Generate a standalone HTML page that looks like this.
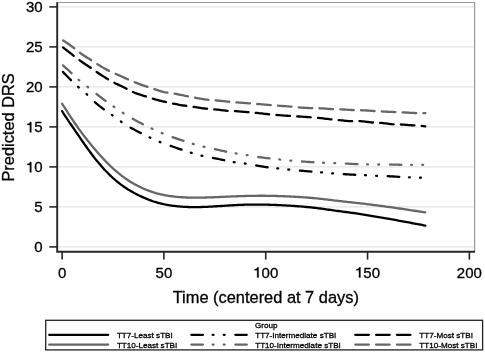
<!DOCTYPE html>
<html><head><meta charset="utf-8"><style>
html,body{margin:0;padding:0;background:#fff;width:485px;height:352px;overflow:hidden}
text{font-family:"Liberation Sans",sans-serif;fill:#000;stroke:#000;stroke-width:0.3px}
</style></head><body>
<svg width="485" height="352" viewBox="0 0 485 352" style="position:absolute;left:0;top:0;will-change:transform">
<rect x="0" y="0" width="485" height="352" fill="#fff"/>
<line x1="57.2" y1="246.90" x2="474.6" y2="246.90" stroke="#e4e4e4" stroke-width="1.2"/>
<line x1="57.2" y1="206.90" x2="474.6" y2="206.90" stroke="#e4e4e4" stroke-width="1.2"/>
<line x1="57.2" y1="166.90" x2="474.6" y2="166.90" stroke="#e4e4e4" stroke-width="1.2"/>
<line x1="57.2" y1="126.90" x2="474.6" y2="126.90" stroke="#e4e4e4" stroke-width="1.2"/>
<line x1="57.2" y1="86.90" x2="474.6" y2="86.90" stroke="#e4e4e4" stroke-width="1.2"/>
<line x1="57.2" y1="46.90" x2="474.6" y2="46.90" stroke="#e4e4e4" stroke-width="1.2"/>
<line x1="57.2" y1="6.90" x2="474.6" y2="6.90" stroke="#e4e4e4" stroke-width="1.2"/>
<path d="M57.2,2.5 H474.6 V251.8" fill="none" stroke="#9a9a9a" stroke-width="1.2"/>
<path d="M57.2,2.2 V251.8 H475.0" fill="none" stroke="#262626" stroke-width="1.9" stroke-linejoin="miter"/>
<line x1="49.3" y1="246.90" x2="57.2" y2="246.90" stroke="#262626" stroke-width="1.6"/>
<text x="34.26" y="252.30" font-size="15">0</text>
<line x1="49.3" y1="206.90" x2="57.2" y2="206.90" stroke="#262626" stroke-width="1.6"/>
<text x="34.26" y="212.30" font-size="15">5</text>
<line x1="49.3" y1="166.90" x2="57.2" y2="166.90" stroke="#262626" stroke-width="1.6"/>
<path d="M31.35,172.30 L31.35,161.98 L30.19,161.98 C29.85,163.30 28.62,163.90 27.27,163.98 L27.27,165.03 L29.85,165.03 L29.85,172.30 Z" fill="#000" stroke="#000" stroke-width="0.3"/>
<text x="34.26" y="172.30" font-size="15">0</text>
<line x1="49.3" y1="126.90" x2="57.2" y2="126.90" stroke="#262626" stroke-width="1.6"/>
<path d="M31.35,132.30 L31.35,121.98 L30.19,121.98 C29.85,123.30 28.62,123.90 27.27,123.98 L27.27,125.03 L29.85,125.03 L29.85,132.30 Z" fill="#000" stroke="#000" stroke-width="0.3"/>
<text x="34.26" y="132.30" font-size="15">5</text>
<line x1="49.3" y1="86.90" x2="57.2" y2="86.90" stroke="#262626" stroke-width="1.6"/>
<text x="25.92" y="92.30" font-size="15">2</text>
<text x="34.26" y="92.30" font-size="15">0</text>
<line x1="49.3" y1="46.90" x2="57.2" y2="46.90" stroke="#262626" stroke-width="1.6"/>
<text x="25.92" y="52.30" font-size="15">2</text>
<text x="34.26" y="52.30" font-size="15">5</text>
<line x1="49.3" y1="6.90" x2="57.2" y2="6.90" stroke="#262626" stroke-width="1.6"/>
<text x="25.92" y="12.30" font-size="15">3</text>
<text x="34.26" y="12.30" font-size="15">0</text>
<line x1="62.10" y1="251.8" x2="62.10" y2="259.6" stroke="#262626" stroke-width="1.6"/>
<text x="57.93" y="277.60" font-size="15">0</text>
<line x1="163.92" y1="251.8" x2="163.92" y2="259.6" stroke="#262626" stroke-width="1.6"/>
<text x="155.57" y="277.60" font-size="15">5</text>
<text x="163.92" y="277.60" font-size="15">0</text>
<line x1="265.73" y1="251.8" x2="265.73" y2="259.6" stroke="#262626" stroke-width="1.6"/>
<path d="M258.65,277.60 L258.65,267.28 L257.49,267.28 C257.15,268.60 255.92,269.20 254.57,269.28 L254.57,270.33 L257.15,270.33 L257.15,277.60 Z" fill="#000" stroke="#000" stroke-width="0.3"/>
<text x="261.56" y="277.60" font-size="15">0</text>
<text x="269.90" y="277.60" font-size="15">0</text>
<line x1="367.55" y1="251.8" x2="367.55" y2="259.6" stroke="#262626" stroke-width="1.6"/>
<path d="M360.46,277.60 L360.46,267.28 L359.31,267.28 C358.96,268.60 357.73,269.20 356.38,269.28 L356.38,270.33 L358.96,270.33 L358.96,277.60 Z" fill="#000" stroke="#000" stroke-width="0.3"/>
<text x="363.37" y="277.60" font-size="15">5</text>
<text x="371.72" y="277.60" font-size="15">0</text>
<line x1="469.36" y1="251.8" x2="469.36" y2="259.6" stroke="#262626" stroke-width="1.6"/>
<text x="456.85" y="277.60" font-size="15">2</text>
<text x="465.19" y="277.60" font-size="15">0</text>
<text x="473.53" y="277.60" font-size="15">0</text>
<text x="265.8" y="302.8" text-anchor="middle" font-size="16.4">Time (centered at 7 days)</text>
<text transform="translate(13.5,127.4) rotate(-90)" x="0" y="0" text-anchor="middle" font-size="16.4">Predicted DRS</text>
<path d="M62.10,111.24 L63.60,113.52 L65.10,115.79 L66.60,118.06 L68.10,120.31 L69.60,122.53 L71.10,124.75 L72.60,126.95 L74.10,129.15 L75.60,131.34 L77.10,133.52 L78.60,135.70 L80.10,137.88 L81.60,140.06 L83.10,142.22 L84.60,144.37 L86.10,146.50 L87.60,148.61 L89.10,150.69 L90.60,152.74 L92.10,154.75 L93.60,156.71 L95.10,158.62 L96.60,160.48 L98.10,162.30 L99.60,164.07 L101.10,165.81 L102.60,167.50 L104.10,169.15 L105.60,170.76 L107.10,172.33 L108.60,173.85 L110.10,175.33 L111.60,176.76 L113.10,178.14 L114.60,179.47 L116.10,180.75 L117.60,181.99 L119.10,183.18 L120.60,184.33 L122.10,185.43 L123.60,186.49 L125.10,187.51 L126.60,188.49 L128.10,189.44 L129.60,190.35 L131.10,191.24 L132.60,192.09 L134.10,192.91 L135.60,193.71 L137.10,194.48 L138.60,195.23 L140.10,195.95 L141.60,196.66 L143.10,197.34 L144.60,198.00 L146.10,198.64 L147.60,199.26 L149.10,199.86 L150.60,200.42 L152.10,200.96 L153.60,201.48 L155.10,201.96 L156.60,202.41 L158.10,202.83 L159.60,203.22 L161.10,203.59 L162.60,203.93 L164.10,204.25 L165.60,204.55 L167.10,204.84 L168.60,205.11 L170.10,205.35 L171.60,205.58 L173.10,205.79 L174.60,205.98 L176.10,206.15 L177.60,206.30 L179.10,206.44 L180.60,206.57 L182.10,206.68 L183.60,206.78 L185.10,206.87 L186.60,206.95 L188.10,207.01 L189.60,207.06 L191.10,207.10 L192.60,207.12 L194.10,207.13 L195.60,207.13 L197.10,207.12 L198.60,207.10 L200.10,207.06 L201.60,207.02 L203.10,206.97 L204.60,206.92 L206.10,206.85 L207.60,206.79 L209.10,206.71 L210.60,206.63 L212.10,206.55 L213.60,206.46 L215.10,206.37 L216.60,206.27 L218.10,206.18 L219.60,206.08 L221.10,205.98 L222.60,205.88 L224.10,205.79 L225.60,205.69 L227.10,205.59 L228.60,205.50 L230.10,205.41 L231.60,205.32 L233.10,205.23 L234.60,205.15 L236.10,205.07 L237.60,205.00 L239.10,204.93 L240.60,204.87 L242.10,204.81 L243.60,204.76 L245.10,204.72 L246.60,204.68 L248.10,204.65 L249.60,204.62 L251.10,204.60 L252.60,204.59 L254.10,204.58 L255.60,204.57 L257.10,204.57 L258.60,204.58 L260.10,204.59 L261.60,204.61 L263.10,204.63 L264.60,204.65 L266.10,204.68 L267.60,204.72 L269.10,204.76 L270.60,204.80 L272.10,204.85 L273.60,204.90 L275.10,204.96 L276.60,205.02 L278.10,205.08 L279.60,205.15 L281.10,205.22 L282.60,205.30 L284.10,205.38 L285.60,205.46 L287.10,205.54 L288.60,205.63 L290.10,205.72 L291.60,205.82 L293.10,205.92 L294.60,206.02 L296.10,206.12 L297.60,206.23 L299.10,206.34 L300.60,206.46 L302.10,206.58 L303.60,206.71 L305.10,206.84 L306.60,206.98 L308.10,207.13 L309.60,207.27 L311.10,207.43 L312.60,207.59 L314.10,207.76 L315.60,207.94 L317.10,208.12 L318.60,208.31 L320.10,208.51 L321.60,208.70 L323.10,208.91 L324.60,209.11 L326.10,209.32 L327.60,209.53 L329.10,209.75 L330.60,209.96 L332.10,210.17 L333.60,210.39 L335.10,210.60 L336.60,210.81 L338.10,211.01 L339.60,211.22 L341.10,211.42 L342.60,211.61 L344.10,211.81 L345.60,212.00 L347.10,212.20 L348.60,212.40 L350.10,212.59 L351.60,212.79 L353.10,213.00 L354.60,213.20 L356.10,213.41 L357.60,213.63 L359.10,213.85 L360.60,214.08 L362.10,214.32 L363.60,214.56 L365.10,214.81 L366.60,215.06 L368.10,215.32 L369.60,215.58 L371.10,215.84 L372.60,216.10 L374.10,216.37 L375.60,216.63 L377.10,216.90 L378.60,217.16 L380.10,217.42 L381.60,217.67 L383.10,217.93 L384.60,218.18 L386.10,218.43 L387.60,218.68 L389.10,218.94 L390.60,219.19 L392.10,219.45 L393.60,219.71 L395.10,219.98 L396.60,220.24 L398.10,220.51 L399.60,220.78 L401.10,221.05 L402.60,221.33 L404.10,221.60 L405.60,221.88 L407.10,222.15 L408.60,222.43 L410.10,222.72 L411.60,223.00 L413.10,223.28 L414.60,223.56 L416.10,223.85 L417.60,224.13 L419.10,224.42 L420.60,224.71 L422.10,224.99 L423.60,225.28 L425.10,225.57 L425.30,225.61" fill="none" stroke="#000" stroke-width="2.3" stroke-linecap="round" stroke-linejoin="round" />
<path d="M62.10,103.65 L63.60,106.00 L65.10,108.35 L66.60,110.68 L68.10,113.01 L69.60,115.31 L71.10,117.59 L72.60,119.85 L74.10,122.07 L75.60,124.26 L77.10,126.42 L78.60,128.55 L80.10,130.63 L81.60,132.67 L83.10,134.65 L84.60,136.60 L86.10,138.52 L87.60,140.41 L89.10,142.27 L90.60,144.11 L92.10,145.93 L93.60,147.73 L95.10,149.50 L96.60,151.25 L98.10,152.98 L99.60,154.68 L101.10,156.36 L102.60,158.00 L104.10,159.61 L105.60,161.19 L107.10,162.74 L108.60,164.25 L110.10,165.72 L111.60,167.15 L113.10,168.53 L114.60,169.88 L116.10,171.19 L117.60,172.46 L119.10,173.69 L120.60,174.88 L122.10,176.04 L123.60,177.16 L125.10,178.25 L126.60,179.29 L128.10,180.30 L129.60,181.27 L131.10,182.21 L132.60,183.11 L134.10,183.96 L135.60,184.79 L137.10,185.58 L138.60,186.34 L140.10,187.07 L141.60,187.77 L143.10,188.44 L144.60,189.08 L146.10,189.70 L147.60,190.30 L149.10,190.87 L150.60,191.41 L152.10,191.92 L153.60,192.41 L155.10,192.86 L156.60,193.29 L158.10,193.68 L159.60,194.05 L161.10,194.39 L162.60,194.71 L164.10,195.01 L165.60,195.29 L167.10,195.56 L168.60,195.81 L170.10,196.05 L171.60,196.26 L173.10,196.46 L174.60,196.63 L176.10,196.78 L177.60,196.91 L179.10,197.03 L180.60,197.14 L182.10,197.24 L183.60,197.33 L185.10,197.42 L186.60,197.49 L188.10,197.55 L189.60,197.60 L191.10,197.64 L192.60,197.66 L194.10,197.68 L195.60,197.68 L197.10,197.68 L198.60,197.66 L200.10,197.64 L201.60,197.61 L203.10,197.58 L204.60,197.54 L206.10,197.49 L207.60,197.45 L209.10,197.39 L210.60,197.34 L212.10,197.28 L213.60,197.23 L215.10,197.17 L216.60,197.10 L218.10,197.04 L219.60,196.98 L221.10,196.91 L222.60,196.85 L224.10,196.78 L225.60,196.72 L227.10,196.65 L228.60,196.59 L230.10,196.53 L231.60,196.46 L233.10,196.40 L234.60,196.34 L236.10,196.29 L237.60,196.23 L239.10,196.18 L240.60,196.13 L242.10,196.08 L243.60,196.04 L245.10,195.99 L246.60,195.96 L248.10,195.92 L249.60,195.89 L251.10,195.86 L252.60,195.83 L254.10,195.81 L255.60,195.79 L257.10,195.78 L258.60,195.77 L260.10,195.76 L261.60,195.76 L263.10,195.77 L264.60,195.77 L266.10,195.79 L267.60,195.80 L269.10,195.82 L270.60,195.85 L272.10,195.88 L273.60,195.91 L275.10,195.95 L276.60,195.99 L278.10,196.04 L279.60,196.09 L281.10,196.14 L282.60,196.20 L284.10,196.26 L285.60,196.32 L287.10,196.39 L288.60,196.45 L290.10,196.52 L291.60,196.60 L293.10,196.67 L294.60,196.75 L296.10,196.84 L297.60,196.92 L299.10,197.01 L300.60,197.11 L302.10,197.20 L303.60,197.31 L305.10,197.41 L306.60,197.52 L308.10,197.64 L309.60,197.76 L311.10,197.89 L312.60,198.02 L314.10,198.16 L315.60,198.30 L317.10,198.45 L318.60,198.61 L320.10,198.77 L321.60,198.94 L323.10,199.10 L324.60,199.27 L326.10,199.45 L327.60,199.62 L329.10,199.80 L330.60,199.98 L332.10,200.16 L333.60,200.34 L335.10,200.52 L336.60,200.69 L338.10,200.87 L339.60,201.04 L341.10,201.21 L342.60,201.38 L344.10,201.55 L345.60,201.71 L347.10,201.87 L348.60,202.04 L350.10,202.20 L351.60,202.36 L353.10,202.53 L354.60,202.69 L356.10,202.86 L357.60,203.03 L359.10,203.20 L360.60,203.37 L362.10,203.55 L363.60,203.73 L365.10,203.91 L366.60,204.09 L368.10,204.28 L369.60,204.47 L371.10,204.66 L372.60,204.85 L374.10,205.04 L375.60,205.23 L377.10,205.43 L378.60,205.62 L380.10,205.82 L381.60,206.01 L383.10,206.21 L384.60,206.41 L386.10,206.60 L387.60,206.81 L389.10,207.01 L390.60,207.21 L392.10,207.42 L393.60,207.63 L395.10,207.84 L396.60,208.06 L398.10,208.27 L399.60,208.49 L401.10,208.71 L402.60,208.93 L404.10,209.16 L405.60,209.38 L407.10,209.61 L408.60,209.84 L410.10,210.07 L411.60,210.30 L413.10,210.53 L414.60,210.76 L416.10,210.99 L417.60,211.23 L419.10,211.46 L420.60,211.69 L422.10,211.93 L423.60,212.16 L425.10,212.40 L425.30,212.43" fill="none" stroke="#666666" stroke-width="2.3" stroke-linecap="round" stroke-linejoin="round" />
<path d="M62.10,71.10 L63.60,72.64 L65.10,74.17 L66.60,75.70 L68.10,77.22 L69.60,78.73 L71.10,80.22 L72.60,81.70 L74.10,83.15 L75.60,84.57 L77.10,85.95 L78.60,87.29 L80.10,88.57 L81.60,89.82 L83.10,91.07 L84.60,92.34 L86.10,93.66 L87.60,95.05 L89.10,96.52 L90.60,98.02 L92.10,99.53 L93.60,100.99 L95.10,102.39 L96.60,103.71 L98.10,104.95 L99.60,106.14 L101.10,107.27 L102.60,108.37 L104.10,109.44 L105.60,110.50 L107.10,111.55 L108.60,112.59 L110.10,113.64 L111.60,114.70 L113.10,115.78 L114.60,116.88 L116.10,117.98 L117.60,119.09 L119.10,120.19 L120.60,121.27 L122.10,122.32 L123.60,123.34 L125.10,124.33 L126.60,125.28 L128.10,126.21 L129.60,127.10 L131.10,127.96 L132.60,128.80 L134.10,129.61 L135.60,130.41 L137.10,131.19 L138.60,131.95 L140.10,132.71 L141.60,133.47 L143.10,134.22 L144.60,134.97 L146.10,135.71 L147.60,136.45 L149.10,137.17 L150.60,137.89 L152.10,138.60 L153.60,139.29 L155.10,139.97 L156.60,140.63 L158.10,141.27 L159.60,141.88 L161.10,142.47 L162.60,143.04 L164.10,143.59 L165.60,144.13 L167.10,144.65 L168.60,145.17 L170.10,145.69 L171.60,146.21 L173.10,146.73 L174.60,147.25 L176.10,147.77 L177.60,148.29 L179.10,148.81 L180.60,149.32 L182.10,149.83 L183.60,150.34 L185.10,150.83 L186.60,151.32 L188.10,151.81 L189.60,152.28 L191.10,152.75 L192.60,153.21 L194.10,153.66 L195.60,154.10 L197.10,154.52 L198.60,154.92 L200.10,155.31 L201.60,155.67 L203.10,156.01 L204.60,156.32 L206.10,156.62 L207.60,156.91 L209.10,157.18 L210.60,157.46 L212.10,157.74 L213.60,158.03 L215.10,158.32 L216.60,158.63 L218.10,158.93 L219.60,159.25 L221.10,159.56 L222.60,159.88 L224.10,160.20 L225.60,160.52 L227.10,160.84 L228.60,161.15 L230.10,161.45 L231.60,161.73 L233.10,161.99 L234.60,162.24 L236.10,162.45 L237.60,162.65 L239.10,162.83 L240.60,163.01 L242.10,163.18 L243.60,163.37 L245.10,163.56 L246.60,163.78 L248.10,164.02 L249.60,164.28 L251.10,164.54 L252.60,164.81 L254.10,165.09 L255.60,165.36 L257.10,165.62 L258.60,165.88 L260.10,166.13 L261.60,166.37 L263.10,166.61 L264.60,166.83 L266.10,167.04 L267.60,167.24 L269.10,167.43 L270.60,167.61 L272.10,167.78 L273.60,167.94 L275.10,168.10 L276.60,168.26 L278.10,168.42 L279.60,168.58 L281.10,168.75 L282.60,168.91 L284.10,169.08 L285.60,169.24 L287.10,169.39 L288.60,169.54 L290.10,169.68 L291.60,169.82 L293.10,169.95 L294.60,170.08 L296.10,170.21 L297.60,170.34 L299.10,170.47 L300.60,170.61 L302.10,170.75 L303.60,170.90 L305.10,171.04 L306.60,171.19 L308.10,171.33 L309.60,171.47 L311.10,171.60 L312.60,171.73 L314.10,171.85 L315.60,171.96 L317.10,172.07 L318.60,172.18 L320.10,172.30 L321.60,172.41 L323.10,172.53 L324.60,172.66 L326.10,172.79 L327.60,172.93 L329.10,173.06 L330.60,173.19 L332.10,173.32 L333.60,173.44 L335.10,173.56 L336.60,173.67 L338.10,173.78 L339.60,173.88 L341.10,173.99 L342.60,174.08 L344.10,174.18 L345.60,174.27 L347.10,174.36 L348.60,174.45 L350.10,174.53 L351.60,174.61 L353.10,174.69 L354.60,174.76 L356.10,174.82 L357.60,174.88 L359.10,174.93 L360.60,174.99 L362.10,175.05 L363.60,175.11 L365.10,175.19 L366.60,175.27 L368.10,175.36 L369.60,175.46 L371.10,175.56 L372.60,175.65 L374.10,175.74 L375.60,175.82 L377.10,175.88 L378.60,175.93 L380.10,175.97 L381.60,176.00 L383.10,176.03 L384.60,176.06 L386.10,176.10 L387.60,176.16 L389.10,176.23 L390.60,176.31 L392.10,176.40 L393.60,176.50 L395.10,176.60 L396.60,176.70 L398.10,176.80 L399.60,176.90 L401.10,176.99 L402.60,177.08 L404.10,177.16 L405.60,177.23 L407.10,177.29 L408.60,177.35 L410.10,177.40 L411.60,177.44 L413.10,177.48 L414.60,177.51 L416.10,177.55 L417.60,177.60 L419.10,177.65 L420.60,177.72 L422.10,177.81 L423.60,177.90 L425.10,178.00 L425.30,178.02" fill="none" stroke="#000" stroke-width="2.3" stroke-linecap="round" stroke-linejoin="round" stroke-dasharray="11.60 9.70 0.9 10.20 0.9 10.70" stroke-dashoffset="-1.15"/>
<path d="M62.10,64.61 L63.60,65.94 L65.10,67.27 L66.60,68.61 L68.10,69.97 L69.60,71.33 L71.10,72.72 L72.60,74.14 L74.10,75.56 L75.60,76.99 L77.10,78.39 L78.60,79.74 L80.10,81.03 L81.60,82.26 L83.10,83.45 L84.60,84.61 L86.10,85.76 L87.60,86.91 L89.10,88.09 L90.60,89.28 L92.10,90.48 L93.60,91.68 L95.10,92.88 L96.60,94.06 L98.10,95.23 L99.60,96.39 L101.10,97.53 L102.60,98.66 L104.10,99.78 L105.60,100.88 L107.10,101.97 L108.60,103.05 L110.10,104.13 L111.60,105.19 L113.10,106.24 L114.60,107.28 L116.10,108.32 L117.60,109.35 L119.10,110.36 L120.60,111.37 L122.10,112.36 L123.60,113.33 L125.10,114.29 L126.60,115.23 L128.10,116.15 L129.60,117.05 L131.10,117.93 L132.60,118.78 L134.10,119.61 L135.60,120.41 L137.10,121.20 L138.60,121.98 L140.10,122.75 L141.60,123.51 L143.10,124.27 L144.60,125.03 L146.10,125.79 L147.60,126.55 L149.10,127.29 L150.60,128.02 L152.10,128.74 L153.60,129.44 L155.10,130.13 L156.60,130.79 L158.10,131.44 L159.60,132.08 L161.10,132.71 L162.60,133.33 L164.10,133.95 L165.60,134.55 L167.10,135.14 L168.60,135.72 L170.10,136.29 L171.60,136.84 L173.10,137.38 L174.60,137.90 L176.10,138.41 L177.60,138.91 L179.10,139.40 L180.60,139.88 L182.10,140.37 L183.60,140.85 L185.10,141.33 L186.60,141.82 L188.10,142.30 L189.60,142.78 L191.10,143.26 L192.60,143.72 L194.10,144.17 L195.60,144.62 L197.10,145.04 L198.60,145.45 L200.10,145.85 L201.60,146.23 L203.10,146.60 L204.60,146.95 L206.10,147.28 L207.60,147.60 L209.10,147.91 L210.60,148.22 L212.10,148.54 L213.60,148.86 L215.10,149.19 L216.60,149.52 L218.10,149.86 L219.60,150.21 L221.10,150.56 L222.60,150.90 L224.10,151.23 L225.60,151.56 L227.10,151.87 L228.60,152.17 L230.10,152.46 L231.60,152.73 L233.10,152.99 L234.60,153.24 L236.10,153.48 L237.60,153.71 L239.10,153.93 L240.60,154.14 L242.10,154.36 L243.60,154.57 L245.10,154.80 L246.60,155.03 L248.10,155.27 L249.60,155.52 L251.10,155.77 L252.60,156.03 L254.10,156.29 L255.60,156.54 L257.10,156.79 L258.60,157.02 L260.10,157.24 L261.60,157.45 L263.10,157.65 L264.60,157.84 L266.10,158.02 L267.60,158.20 L269.10,158.37 L270.60,158.53 L272.10,158.70 L273.60,158.86 L275.10,159.02 L276.60,159.17 L278.10,159.33 L279.60,159.48 L281.10,159.64 L282.60,159.79 L284.10,159.95 L285.60,160.10 L287.10,160.25 L288.60,160.39 L290.10,160.53 L291.60,160.67 L293.10,160.79 L294.60,160.92 L296.10,161.04 L297.60,161.15 L299.10,161.26 L300.60,161.37 L302.10,161.48 L303.60,161.59 L305.10,161.70 L306.60,161.80 L308.10,161.91 L309.60,162.01 L311.10,162.11 L312.60,162.20 L314.10,162.29 L315.60,162.38 L317.10,162.46 L318.60,162.54 L320.10,162.62 L321.60,162.69 L323.10,162.76 L324.60,162.83 L326.10,162.89 L327.60,162.95 L329.10,163.01 L330.60,163.06 L332.10,163.11 L333.60,163.16 L335.10,163.20 L336.60,163.25 L338.10,163.29 L339.60,163.33 L341.10,163.37 L342.60,163.43 L344.10,163.48 L345.60,163.55 L347.10,163.62 L348.60,163.70 L350.10,163.79 L351.60,163.87 L353.10,163.95 L354.60,164.03 L356.10,164.11 L357.60,164.17 L359.10,164.23 L360.60,164.27 L362.10,164.31 L363.60,164.34 L365.10,164.37 L366.60,164.39 L368.10,164.41 L369.60,164.43 L371.10,164.44 L372.60,164.46 L374.10,164.47 L375.60,164.48 L377.10,164.49 L378.60,164.49 L380.10,164.49 L381.60,164.49 L383.10,164.49 L384.60,164.49 L386.10,164.49 L387.60,164.50 L389.10,164.52 L390.60,164.54 L392.10,164.57 L393.60,164.60 L395.10,164.64 L396.60,164.68 L398.10,164.72 L399.60,164.75 L401.10,164.78 L402.60,164.80 L404.10,164.81 L405.60,164.82 L407.10,164.82 L408.60,164.81 L410.10,164.81 L411.60,164.81 L413.10,164.80 L414.60,164.80 L416.10,164.80 L417.60,164.80 L419.10,164.80 L420.60,164.80 L422.10,164.80 L423.60,164.80 L425.10,164.80 L425.30,164.80" fill="none" stroke="#666666" stroke-width="2.3" stroke-linecap="round" stroke-linejoin="round" stroke-dasharray="11.60 9.70 0.9 10.20 0.9 10.70" stroke-dashoffset="-1.15"/>
<path d="M62.10,46.74 L63.60,47.90 L65.10,49.06 L66.60,50.22 L68.10,51.38 L69.60,52.54 L71.10,53.71 L72.60,54.89 L74.10,56.07 L75.60,57.25 L77.10,58.41 L78.60,59.55 L80.10,60.64 L81.60,61.69 L83.10,62.71 L84.60,63.71 L86.10,64.70 L87.60,65.69 L89.10,66.68 L90.60,67.70 L92.10,68.74 L93.60,69.79 L95.10,70.85 L96.60,71.90 L98.10,72.93 L99.60,73.94 L101.10,74.93 L102.60,75.90 L104.10,76.85 L105.60,77.79 L107.10,78.70 L108.60,79.60 L110.10,80.47 L111.60,81.32 L113.10,82.14 L114.60,82.92 L116.10,83.67 L117.60,84.40 L119.10,85.10 L120.60,85.81 L122.10,86.51 L123.60,87.22 L125.10,87.96 L126.60,88.72 L128.10,89.52 L129.60,90.33 L131.10,91.12 L132.60,91.86 L134.10,92.53 L135.60,93.14 L137.10,93.70 L138.60,94.21 L140.10,94.70 L141.60,95.16 L143.10,95.62 L144.60,96.07 L146.10,96.53 L147.60,97.00 L149.10,97.48 L150.60,97.96 L152.10,98.43 L153.60,98.89 L155.10,99.33 L156.60,99.75 L158.10,100.15 L159.60,100.54 L161.10,100.91 L162.60,101.27 L164.10,101.61 L165.60,101.94 L167.10,102.26 L168.60,102.60 L170.10,102.94 L171.60,103.27 L173.10,103.59 L174.60,103.91 L176.10,104.20 L177.60,104.49 L179.10,104.76 L180.60,105.02 L182.10,105.27 L183.60,105.50 L185.10,105.72 L186.60,105.92 L188.10,106.11 L189.60,106.29 L191.10,106.48 L192.60,106.67 L194.10,106.89 L195.60,107.12 L197.10,107.36 L198.60,107.61 L200.10,107.85 L201.60,108.08 L203.10,108.29 L204.60,108.49 L206.10,108.66 L207.60,108.80 L209.10,108.90 L210.60,109.00 L212.10,109.10 L213.60,109.22 L215.10,109.37 L216.60,109.54 L218.10,109.71 L219.60,109.90 L221.10,110.09 L222.60,110.27 L224.10,110.44 L225.60,110.60 L227.10,110.74 L228.60,110.84 L230.10,110.92 L231.60,110.98 L233.10,111.04 L234.60,111.11 L236.10,111.20 L237.60,111.30 L239.10,111.41 L240.60,111.54 L242.10,111.66 L243.60,111.80 L245.10,111.93 L246.60,112.06 L248.10,112.19 L249.60,112.31 L251.10,112.43 L252.60,112.54 L254.10,112.67 L255.60,112.80 L257.10,112.95 L258.60,113.11 L260.10,113.28 L261.60,113.46 L263.10,113.64 L264.60,113.82 L266.10,113.99 L267.60,114.16 L269.10,114.32 L270.60,114.47 L272.10,114.61 L273.60,114.74 L275.10,114.86 L276.60,114.98 L278.10,115.10 L279.60,115.22 L281.10,115.34 L282.60,115.45 L284.10,115.56 L285.60,115.67 L287.10,115.77 L288.60,115.87 L290.10,115.96 L291.60,116.05 L293.10,116.13 L294.60,116.21 L296.10,116.30 L297.60,116.39 L299.10,116.49 L300.60,116.59 L302.10,116.69 L303.60,116.79 L305.10,116.90 L306.60,117.01 L308.10,117.11 L309.60,117.22 L311.10,117.32 L312.60,117.42 L314.10,117.52 L315.60,117.63 L317.10,117.75 L318.60,117.89 L320.10,118.05 L321.60,118.23 L323.10,118.41 L324.60,118.59 L326.10,118.78 L327.60,118.97 L329.10,119.14 L330.60,119.31 L332.10,119.46 L333.60,119.59 L335.10,119.72 L336.60,119.84 L338.10,119.98 L339.60,120.13 L341.10,120.29 L342.60,120.46 L344.10,120.63 L345.60,120.78 L347.10,120.92 L348.60,121.04 L350.10,121.13 L351.60,121.19 L353.10,121.20 L354.60,121.17 L356.10,121.13 L357.60,121.11 L359.10,121.13 L360.60,121.20 L362.10,121.31 L363.60,121.46 L365.10,121.63 L366.60,121.81 L368.10,122.00 L369.60,122.18 L371.10,122.35 L372.60,122.49 L374.10,122.60 L375.60,122.66 L377.10,122.71 L378.60,122.76 L380.10,122.84 L381.60,122.96 L383.10,123.11 L384.60,123.28 L386.10,123.47 L387.60,123.66 L389.10,123.85 L390.60,124.02 L392.10,124.17 L393.60,124.28 L395.10,124.36 L396.60,124.40 L398.10,124.42 L399.60,124.45 L401.10,124.50 L402.60,124.58 L404.10,124.67 L405.60,124.78 L407.10,124.90 L408.60,125.03 L410.10,125.15 L411.60,125.27 L413.10,125.37 L414.60,125.46 L416.10,125.52 L417.60,125.57 L419.10,125.63 L420.60,125.72 L422.10,125.88 L423.60,126.10 L425.10,126.35 L425.30,126.38" fill="none" stroke="#000" stroke-width="2.3" stroke-linecap="round" stroke-linejoin="round" stroke-dasharray="13.60 7.22" stroke-dashoffset="-1.15"/>
<path d="M62.10,39.85 L63.60,40.82 L65.10,41.79 L66.60,42.78 L68.10,43.78 L69.60,44.81 L71.10,45.87 L72.60,46.97 L74.10,48.12 L75.60,49.31 L77.10,50.53 L78.60,51.73 L80.10,52.88 L81.60,53.97 L83.10,55.01 L84.60,56.01 L86.10,56.97 L87.60,57.92 L89.10,58.85 L90.60,59.80 L92.10,60.75 L93.60,61.73 L95.10,62.71 L96.60,63.69 L98.10,64.65 L99.60,65.58 L101.10,66.50 L102.60,67.38 L104.10,68.24 L105.60,69.07 L107.10,69.86 L108.60,70.62 L110.10,71.34 L111.60,72.03 L113.10,72.70 L114.60,73.36 L116.10,74.03 L117.60,74.70 L119.10,75.37 L120.60,76.05 L122.10,76.73 L123.60,77.41 L125.10,78.08 L126.60,78.75 L128.10,79.42 L129.60,80.08 L131.10,80.73 L132.60,81.37 L134.10,81.99 L135.60,82.60 L137.10,83.19 L138.60,83.76 L140.10,84.33 L141.60,84.88 L143.10,85.41 L144.60,85.94 L146.10,86.45 L147.60,86.96 L149.10,87.46 L150.60,87.95 L152.10,88.44 L153.60,88.93 L155.10,89.43 L156.60,89.92 L158.10,90.39 L159.60,90.85 L161.10,91.28 L162.60,91.68 L164.10,92.04 L165.60,92.34 L167.10,92.60 L168.60,92.83 L170.10,93.05 L171.60,93.26 L173.10,93.48 L174.60,93.72 L176.10,93.98 L177.60,94.25 L179.10,94.54 L180.60,94.84 L182.10,95.15 L183.60,95.46 L185.10,95.77 L186.60,96.08 L188.10,96.38 L189.60,96.68 L191.10,96.96 L192.60,97.24 L194.10,97.52 L195.60,97.79 L197.10,98.07 L198.60,98.33 L200.10,98.60 L201.60,98.85 L203.10,99.09 L204.60,99.31 L206.10,99.52 L207.60,99.70 L209.10,99.86 L210.60,100.00 L212.10,100.13 L213.60,100.25 L215.10,100.36 L216.60,100.49 L218.10,100.63 L219.60,100.77 L221.10,100.92 L222.60,101.07 L224.10,101.22 L225.60,101.37 L227.10,101.52 L228.60,101.67 L230.10,101.81 L231.60,101.95 L233.10,102.09 L234.60,102.22 L236.10,102.35 L237.60,102.47 L239.10,102.60 L240.60,102.72 L242.10,102.85 L243.60,102.97 L245.10,103.09 L246.60,103.20 L248.10,103.32 L249.60,103.43 L251.10,103.54 L252.60,103.65 L254.10,103.75 L255.60,103.86 L257.10,103.98 L258.60,104.09 L260.10,104.21 L261.60,104.34 L263.10,104.46 L264.60,104.59 L266.10,104.72 L267.60,104.84 L269.10,104.97 L270.60,105.09 L272.10,105.21 L273.60,105.33 L275.10,105.45 L276.60,105.56 L278.10,105.67 L279.60,105.78 L281.10,105.89 L282.60,106.00 L284.10,106.11 L285.60,106.22 L287.10,106.33 L288.60,106.45 L290.10,106.58 L291.60,106.71 L293.10,106.85 L294.60,106.99 L296.10,107.14 L297.60,107.28 L299.10,107.41 L300.60,107.54 L302.10,107.65 L303.60,107.76 L305.10,107.85 L306.60,107.94 L308.10,108.01 L309.60,108.07 L311.10,108.12 L312.60,108.15 L314.10,108.18 L315.60,108.19 L317.10,108.21 L318.60,108.23 L320.10,108.29 L321.60,108.36 L323.10,108.46 L324.60,108.57 L326.10,108.68 L327.60,108.79 L329.10,108.90 L330.60,109.00 L332.10,109.09 L333.60,109.15 L335.10,109.18 L336.60,109.20 L338.10,109.23 L339.60,109.27 L341.10,109.33 L342.60,109.40 L344.10,109.50 L345.60,109.60 L347.10,109.70 L348.60,109.81 L350.10,109.91 L351.60,110.00 L353.10,110.08 L354.60,110.14 L356.10,110.18 L357.60,110.20 L359.10,110.23 L360.60,110.26 L362.10,110.31 L363.60,110.37 L365.10,110.44 L366.60,110.52 L368.10,110.61 L369.60,110.71 L371.10,110.81 L372.60,110.90 L374.10,111.00 L375.60,111.10 L377.10,111.19 L378.60,111.28 L380.10,111.37 L381.60,111.45 L383.10,111.53 L384.60,111.60 L386.10,111.67 L387.60,111.74 L389.10,111.81 L390.60,111.87 L392.10,111.93 L393.60,111.99 L395.10,112.05 L396.60,112.10 L398.10,112.16 L399.60,112.21 L401.10,112.28 L402.60,112.35 L404.10,112.43 L405.60,112.51 L407.10,112.60 L408.60,112.69 L410.10,112.78 L411.60,112.86 L413.10,112.93 L414.60,113.00 L416.10,113.05 L417.60,113.08 L419.10,113.10 L420.60,113.12 L422.10,113.13 L423.60,113.15 L425.10,113.17 L425.30,113.18" fill="none" stroke="#666666" stroke-width="2.3" stroke-linecap="round" stroke-linejoin="round" stroke-dasharray="13.60 7.22" stroke-dashoffset="-1.15"/>
<rect x="45.7" y="320.3" width="436.9" height="29.6" fill="#fff" stroke="#222" stroke-width="1.3"/>
<path d="M49.2,334.8 H108.2" stroke="#000" stroke-width="2.3" stroke-linecap="round" />
<path d="M49.2,344.6 H108.2" stroke="#666666" stroke-width="2.3" stroke-linecap="round" />
<path d="M190.2,334.8 H246.8" stroke="#000" stroke-width="2.3" stroke-linecap="round" stroke-dasharray="11.60 9.70 0.9 10.20 0.9 10.70" stroke-dashoffset="-1.15"/>
<path d="M190.2,344.6 H246.8" stroke="#666666" stroke-width="2.3" stroke-linecap="round" stroke-dasharray="11.60 9.70 0.9 10.20 0.9 10.70" stroke-dashoffset="-1.15"/>
<path d="M354.1,334.8 H411.0" stroke="#000" stroke-width="2.3" stroke-linecap="round" stroke-dasharray="13.60 7.22" stroke-dashoffset="-1.15"/>
<path d="M354.1,344.6 H411.0" stroke="#666666" stroke-width="2.3" stroke-linecap="round" stroke-dasharray="13.60 7.22" stroke-dashoffset="-1.15"/>
<text x="254.9" y="328.4" font-size="8.12">Group</text>
<text x="116.9" y="337.9" font-size="8.12">TT7-Least sTBI</text>
<text x="116.9" y="347.6" font-size="8.12">TT10-Least sTBI</text>
<text x="255.2" y="337.9" font-size="8.12">TT7-Intermediate sTBI</text>
<text x="255.2" y="347.6" font-size="8.12">TT10-Intermediate sTBI</text>
<text x="419.3" y="337.9" font-size="8.12">TT7-Most sTBI</text>
<text x="419.3" y="347.6" font-size="8.12">TT10-Most sTBI</text>
</svg>
</body></html>
